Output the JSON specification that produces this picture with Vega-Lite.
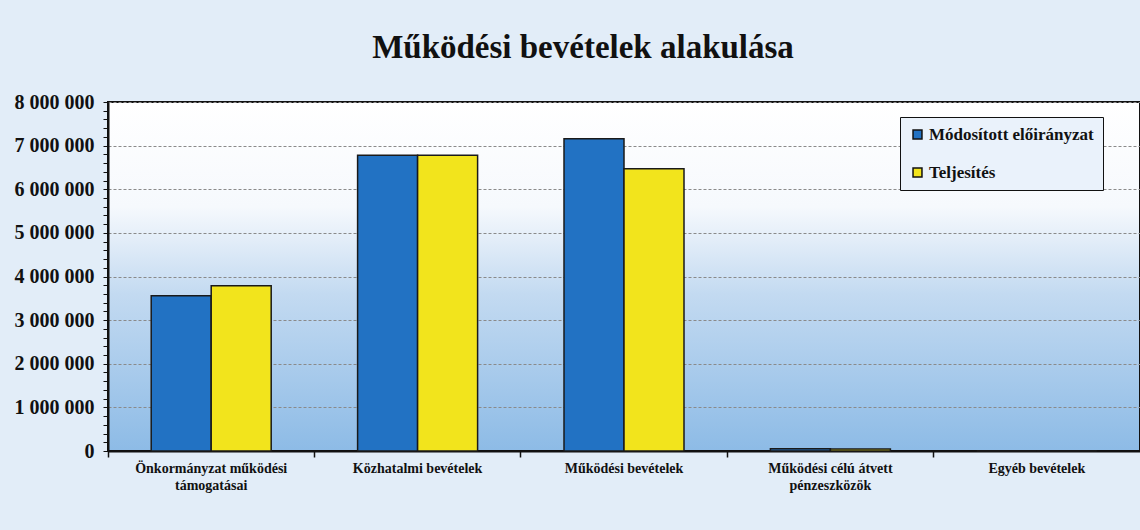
{
  "$schema": "https://vega.github.io/schema/vega-lite/v6.json",
  "width": 1032,
  "height": 349,
  "autosize": {"type": "none"},
  "padding": {"left": 108, "top": 102, "right": 0, "bottom": 79},
  "background": "#e2edf8",
  "title": {
    "text": "Működési bevételek alakulása",
    "font": "Liberation Serif",
    "fontSize": 33,
    "fontWeight": "bold",
    "color": "#111111",
    "anchor": "middle",
    "dx": -41,
    "offset": 27
  },
  "config": {
    "locale": {"number": {"decimal": ",", "thousands": " ", "grouping": [3], "currency": ["", ""]}},
    "view": {"stroke": "#111111", "strokeWidth": 2,
      "fill": {"gradient": "linear", "x1": 0, "y1": 0, "x2": 0, "y2": 1,
        "stops": [
          {"offset": 0, "color": "#ffffff"},
          {"offset": 0.3, "color": "#f6f9fd"},
          {"offset": 0.55, "color": "#c3daf1"},
          {"offset": 1, "color": "#8dbbe6"}
        ]}}
  },
  "data": {
    "values": [
      {"kategoria": "Önkormányzat működési|támogatásai", "sorozat": "Módosított előirányzat", "ertek": 3560000},
      {"kategoria": "Önkormányzat működési|támogatásai", "sorozat": "Teljesítés", "ertek": 3790000},
      {"kategoria": "Közhatalmi bevételek", "sorozat": "Módosított előirányzat", "ertek": 6780000},
      {"kategoria": "Közhatalmi bevételek", "sorozat": "Teljesítés", "ertek": 6780000},
      {"kategoria": "Működési bevételek", "sorozat": "Módosított előirányzat", "ertek": 7160000},
      {"kategoria": "Működési bevételek", "sorozat": "Teljesítés", "ertek": 6470000},
      {"kategoria": "Működési célú átvett|pénzeszközök", "sorozat": "Módosított előirányzat", "ertek": 50000},
      {"kategoria": "Működési célú átvett|pénzeszközök", "sorozat": "Teljesítés", "ertek": 45000},
      {"kategoria": "Egyéb bevételek", "sorozat": "Módosított előirányzat", "ertek": 0},
      {"kategoria": "Egyéb bevételek", "sorozat": "Teljesítés", "ertek": 0}
    ]
  },
  "mark": {"type": "bar", "stroke": "#1a1a1a", "strokeWidth": 1.5},
  "encoding": {
    "x": {
      "field": "kategoria",
      "type": "nominal",
      "sort": null,
      "scale": {"paddingInner": 0, "paddingOuter": 0},
      "axis": {
        "title": null,
        "labelAngle": 0,
        "labelExpr": "split(datum.label, '|')",
        "labelFont": "Liberation Serif",
        "labelFontSize": 14,
        "labelFontWeight": "bold",
        "labelColor": "#111111",
        "labelLineHeight": 17,
        "labelPadding": 4,
        "bandPosition": 0,
        "domainColor": "#111111",
        "domainWidth": 2,
        "tickColor": "#111111",
        "tickSize": 6,
        "tickWidth": 1.5
      }
    },
    "xOffset": {
      "field": "sorozat",
      "type": "nominal",
      "sort": ["Módosított előirányzat", "Teljesítés"],
      "scale": {"paddingInner": 0, "paddingOuter": 0.72}
    },
    "y": {
      "field": "ertek",
      "type": "quantitative",
      "scale": {"domain": [0, 8000000], "nice": false},
      "axis": {
        "title": null,
        "values": [0, 200000, 400000, 600000, 800000, 1000000, 1200000, 1400000, 1600000, 1800000, 2000000, 2200000, 2400000, 2600000, 2800000, 3000000, 3200000, 3400000, 3600000, 3800000, 4000000, 4200000, 4400000, 4600000, 4800000, 5000000, 5200000, 5400000, 5600000, 5800000, 6000000, 6200000, 6400000, 6600000, 6800000, 7000000, 7200000, 7400000, 7600000, 7800000, 8000000],
        "format": ",d",
        "labelExpr": "datum.value % 1000000 === 0 ? datum.label : ''",
        "labelOverlap": false,
        "labelFont": "Liberation Serif",
        "labelFontSize": 20,
        "labelFontWeight": "bold",
        "labelColor": "#111111",
        "labelPadding": 9,
        "domainColor": "#111111",
        "domainWidth": 2,
        "tickColor": "#111111",
        "tickSize": 5,
        "tickWidth": 1,
        "grid": true,
        "gridColor": "#8a8a8a",
        "gridDash": [3, 2],
        "gridWidth": 1,
        "gridOpacity": {"condition": {"test": "datum.value % 1000000 === 0 && datum.value > 0", "value": 1}, "value": 0}
      }
    },
    "color": {
      "field": "sorozat",
      "type": "nominal",
      "sort": ["Módosított előirányzat", "Teljesítés"],
      "scale": {"domain": ["Módosított előirányzat", "Teljesítés"], "range": ["#2272c3", "#f2e41c"]},
      "legend": {
        "title": null,
        "orient": "none",
        "legendX": 792,
        "legendY": 15,
        "direction": "vertical",
        "fillColor": "#eaf2fb",
        "strokeColor": "#111111",
        "padding": 9,
        "rowPadding": 20,
        "symbolType": "square",
        "symbolSize": 80,
        "symbolStrokeColor": "#111111",
        "symbolStrokeWidth": 1.5,
        "labelFont": "Liberation Serif",
        "labelFontSize": 17,
        "labelFontWeight": "bold",
        "labelColor": "#111111",
        "labelOffset": 3,
        "labelLimit": 250
      }
    }
  }
}
